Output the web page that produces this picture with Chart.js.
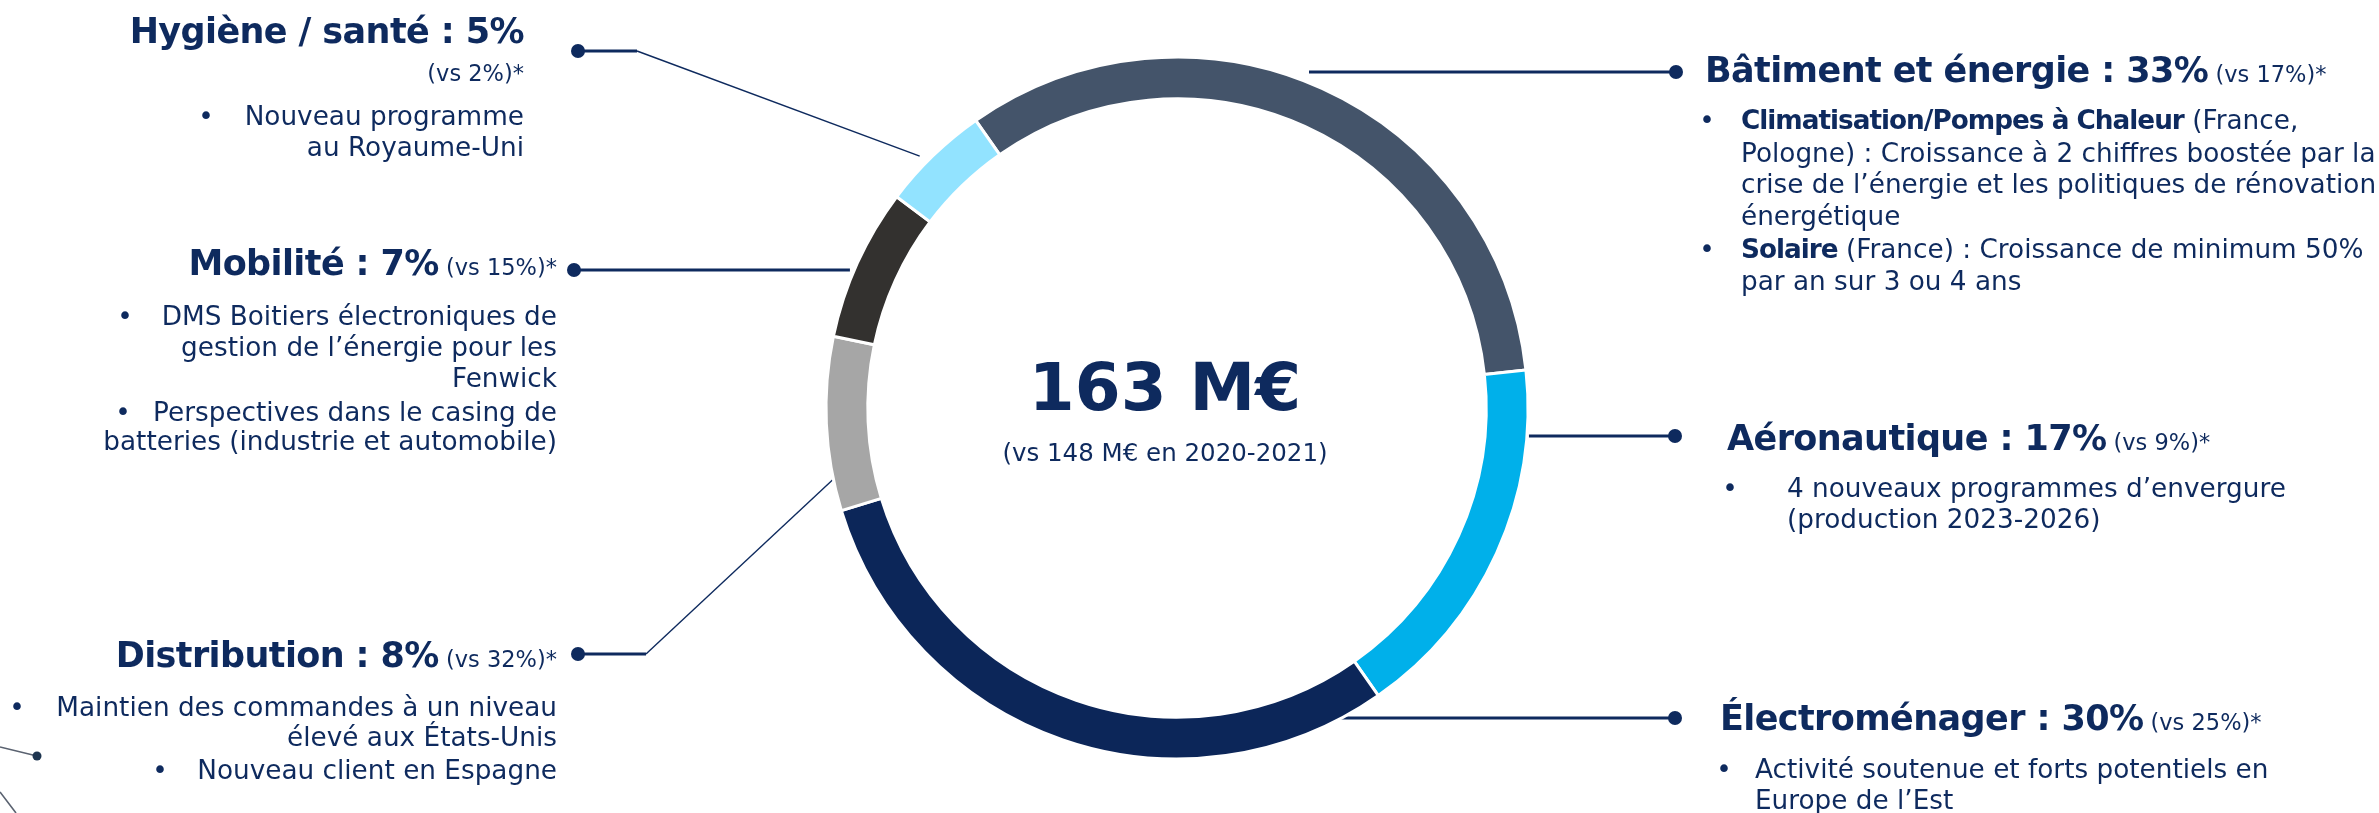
<!DOCTYPE html>
<html lang="fr">
<head>
<meta charset="utf-8">
<title>Chiffre d'affaires par marché</title>
<script src="https://cdn.jsdelivr.net/npm/chart.js@4"></script>
<style>
  html, body { margin: 0; padding: 0; background: #fff; }
  #wrap { position: relative; width: 2379px; height: 813px; overflow: hidden;
          font-family: "DejaVu Sans", sans-serif; color: #0E2A5E; }
  #donut { position: absolute; left: 0; top: 0; }
  .ln { position: absolute; white-space: nowrap; font-size: 26.3px; }
  .ln b { letter-spacing: -1px; }
  .t { font-weight: bold; font-size: 35px; letter-spacing: -0.6px; }
  .vs { font-weight: normal; font-size: 22.5px; letter-spacing: 0; }
  .bul { transform: translateX(-50%); }
  .c { transform: translateX(-50%); text-align: center; letter-spacing: 0; }
</style>
</head>
<body>
<div id="wrap">
  <canvas id="donut" width="2379" height="813"></canvas>
</div>
<script>
// --- data ---
const categories = ['Bâtiment et énergie', 'Aéronautique', 'Électroménager', 'Distribution', 'Mobilité', 'Hygiène / santé'];
const shares = [33, 17, 30, 8, 7, 5];
const previousShares = [17, 9, 25, 32, 15, 2];
const colors = ['#44546A', '#00B0EA', '#0C2659', '#A6A6A6', '#33312F', '#92E3FF'];
const totalLabel = '163 M€';
const totalNote = '(vs 148 M€ en 2020-2021)';

// bullet points, one array per category, one array of lines per bullet
const details = [
  [['<b>Climatisation/Pompes à Chaleur</b> (France,', 'Pologne) : Croissance à 2 chiffres boostée par la', 'crise de l’énergie et les politiques de rénovation', 'énergétique'],
   ['<b>Solaire</b> (France) : Croissance de minimum 50%', 'par an sur 3 ou 4 ans']],
  [['4 nouveaux programmes d’envergure', '(production 2023-2026)']],
  [['Activité soutenue et forts potentiels en', 'Europe de l’Est']],
  [['Maintien des commandes à un niveau', 'élevé aux États-Unis'], ['Nouveau client en Espagne']],
  [['DMS Boitiers électroniques de', 'gestion de l’énergie pour les', 'Fenwick'], ['Perspectives dans le casing de', 'batteries (industrie et automobile)']],
  [['Nouveau programme', 'au Royaume-Uni']]
];

// --- layout (label blocks and connectors) ---
const W = 2379;
const navy = '#0E2A5E';
const blocks = [
  {side: 'R', tx: 1705, ty: 69, bx: [1707, 1707], lx: 1741, ly: [120, 152.5, 184, 216, 248.5, 281]},
  {side: 'R', tx: 1727, ty: 437, bx: [1730], lx: 1787, ly: [488, 519]},
  {side: 'R', tx: 1720, ty: 717, bx: [1724], lx: 1755, ly: [769, 800]},
  {side: 'L', tx: 557, ty: 654.5, bx: [17, 160], lx: 557, ly: [707, 737, 770]},
  {side: 'L', tx: 557, ty: 262, bx: [125, 123], lx: 557, ly: [316, 347, 378, 412, 441]},
  {side: 'L', tx: 524, ty: 30.5, vsY: 72, bx: [206], lx: 524, ly: [115.5, 147]}
];
const connectors = [
  {dot: [1676, 72], gap: 10},
  {dot: [1675, 436], gap: 2},
  {dot: [1675, 718], gap: -7},
  {dot: [578, 654], elbow: [646, 654], frac: 0.18, gap: 1},
  {dot: [574, 270], gap: 4},
  {dot: [578, 51], elbow: [637, 51], frac: 0.41, gap: 9}
];

const wrap = document.getElementById('wrap');

function addLine(x, yc, side, html, cls, size, lh) {
  const d = document.createElement('div');
  d.className = 'ln ' + (cls || '');
  d.innerHTML = html;
  d.style.lineHeight = lh + 'px';
  d.style.height = lh + 'px';
  d.style.top = (yc - lh / 2 + 0.0185 * size) + 'px';
  if (side === 'L') d.style.right = (W - x) + 'px';
  else d.style.left = x + 'px';
  wrap.appendChild(d);
  return d;
}

blocks.forEach((b, i) => {
  const vs = '<span class="vs"> (vs ' + previousShares[i] + '%)*</span>';
  const title = categories[i] + ' : ' + shares[i] + '%';
  if (b.vsY) {
    addLine(b.tx, b.ty, b.side, title, 't', 35, 44);
    addLine(b.tx, b.vsY, b.side, '<span class="vs">(vs ' + previousShares[i] + '%)*</span>', '', 22.5, 30);
  } else {
    addLine(b.tx, b.ty, b.side, title + vs, 't', 35, 44);
  }
  let k = 0;
  details[i].forEach((bullet, j) => {
    bullet.forEach((txt, n) => {
      const y = b.ly[k++];
      if (n === 0) addLine(b.bx[j], y, 'R', '•', 'bul', 26.3, 36);
      addLine(b.lx, y, b.side, txt, '', 26.3, 36);
    });
  });
});

addLine(1165, 387, 'R', totalLabel, 't c', 66, 80).style.fontSize = '66px';
addLine(1165, 453, 'R', totalNote, 'c', 24.5, 34).style.fontSize = '24.5px';

const connectorPlugin = {
  id: 'connectors',
  beforeDatasetsDraw(chart) {
    const ctx = chart.ctx;
    const arcs = chart.getDatasetMeta(0).data;
    ctx.save();
    ctx.strokeStyle = navy;
    ctx.fillStyle = navy;
    connectors.forEach((c, i) => {
      const arc = arcs[i].getProps(['x', 'y', 'startAngle', 'endAngle', 'outerRadius'], true);
      const R = arc.outerRadius + c.gap;
      let end;
      if (c.frac === undefined) {
        const dy = c.dot[1] - arc.y;
        const dx = Math.sqrt(R * R - dy * dy);
        end = [c.dot[0] > arc.x ? arc.x + dx : arc.x - dx, c.dot[1]];
      } else {
        const a = arc.startAngle + c.frac * (arc.endAngle - arc.startAngle);
        end = [arc.x + R * Math.cos(a), arc.y + R * Math.sin(a)];
      }
      ctx.lineWidth = 3;
      ctx.beginPath();
      ctx.moveTo(c.dot[0], c.dot[1]);
      if (c.elbow) {
        ctx.lineTo(c.elbow[0], c.elbow[1]);
        ctx.stroke();
        ctx.lineWidth = 1.4;
        ctx.beginPath();
        ctx.moveTo(c.elbow[0], c.elbow[1]);
      }
      ctx.lineTo(end[0], end[1]);
      ctx.stroke();
      ctx.beginPath();
      ctx.arc(c.dot[0], c.dot[1], 7, 0, Math.PI * 2);
      ctx.fill();
    });

    // bits of a neighbouring graphic cut off at the bottom left
    ctx.strokeStyle = '#5A6270';
    ctx.lineWidth = 1.6;
    ctx.beginPath();
    ctx.moveTo(0, 747);
    ctx.lineTo(37, 756);
    ctx.moveTo(0, 792);
    ctx.lineTo(16, 813);
    ctx.stroke();
    ctx.fillStyle = '#1E3550';
    ctx.beginPath();
    ctx.arc(37, 756, 4.5, 0, Math.PI * 2);
    ctx.fill();
    ctx.restore();
  }
};

new Chart(document.getElementById('donut'), {
  type: 'doughnut',
  data: {
    labels: categories,
    datasets: [{
      data: shares,
      backgroundColor: colors,
      borderColor: '#ffffff',
      borderWidth: 3,
      hoverOffset: 0
    }]
  },
  options: {
    responsive: false,
    animation: false,
    rotation: -35,
    radius: 351,
    cutout: 307,
    layout: { padding: { left: 827, top: 58, right: 852, bottom: 55 } },
    plugins: { legend: { display: false }, tooltip: { enabled: false } }
  },
  plugins: [connectorPlugin]
});
</script>
</body>
</html>
